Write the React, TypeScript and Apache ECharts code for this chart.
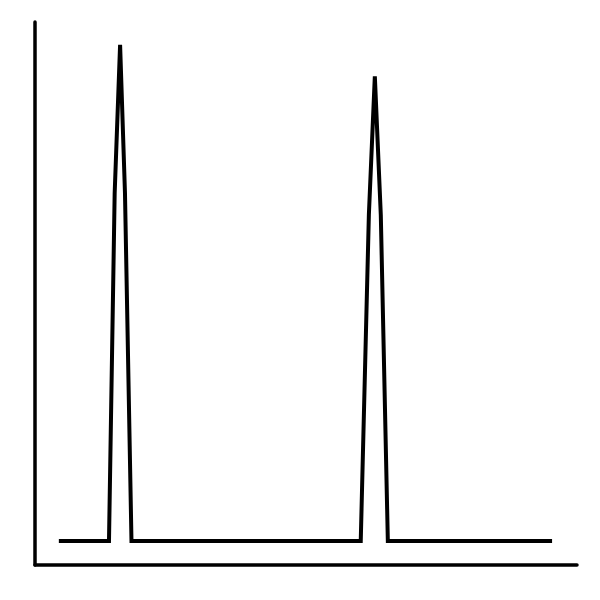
import React, { useEffect, useRef } from "react";
import * as echarts from "echarts";

const xValues = [4.4, 13.65, 14.7, 15.7, 16.6, 17.8, 60.1, 61.6, 62.7, 63.8, 65.1, 95.4];
const yValues = [4.4, 4.4, 68.5, 95.8, 68.5, 4.4, 4.4, 64.5, 90.0, 64.5, 4.4, 4.4];

export default function App() {
  const ref = useRef<HTMLDivElement>(null);
  useEffect(() => {
    if (!ref.current) return;
    const chart = echarts.init(ref.current, undefined, { renderer: "svg" });
    chart.setOption({
      animation: false,
      backgroundColor: "#ffffff",
      grid: { left: 27, right: 15, top: 14, bottom: 27 },
      xAxis: {
        type: "value",
        min: 0,
        max: 100,
        axisLine: { show: true, onZero: false, lineStyle: { color: "#000", width: 3.5 } },
        axisTick: { show: false },
        axisLabel: { show: false },
        splitLine: { show: false },
      },
      yAxis: {
        type: "value",
        min: 0,
        max: 100,
        axisLine: { show: true, onZero: false, lineStyle: { color: "#000", width: 3.5 } },
        axisTick: { show: false },
        axisLabel: { show: false },
        splitLine: { show: false },
      },
      series: [
        {
          type: "line",
          data: xValues.map((x, i) => [x, yValues[i]]),
          showSymbol: false,
          symbol: "none",
          lineStyle: { color: "#000", width: 4, join: "miter" },
        },
      ],
    });
    return () => chart.dispose();
  }, []);
  return <div ref={ref} style={{ width: 584, height: 584 }} />;
}
